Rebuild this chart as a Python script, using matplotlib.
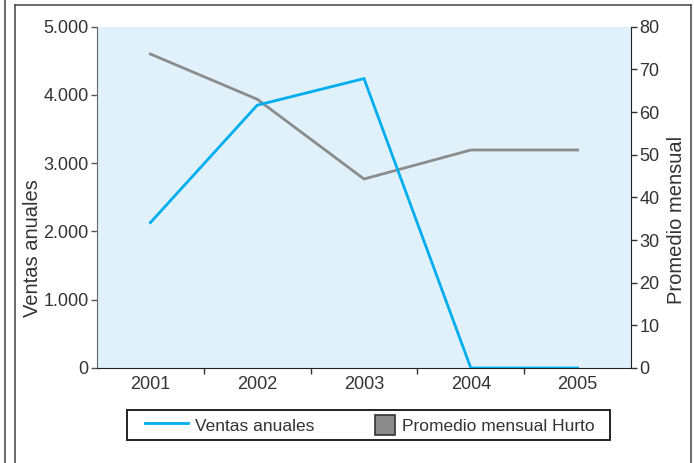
import matplotlib
matplotlib.use("Agg")
import matplotlib.pyplot as plt
from matplotlib.lines import Line2D
from matplotlib.patches import Patch, Rectangle
from matplotlib.legend_handler import HandlerPatch
from matplotlib.ticker import FuncFormatter, MultipleLocator, FixedLocator

plt.rcParams["font.family"] = ["Liberation Sans", "DejaVu Sans"]

# Datos
anios = ["2001", "2002", "2003", "2004", "2005"]
ventas_anuales = [2130, 3850, 4240, 0, 0]
promedio_hurto = [73.6, 63.0, 44.3, 51.1, 51.1]

AZUL = "#00AEEF"
GRIS = "#8C8C8C"
FONDO = "#E0F1FB"
TEXTO = "#333333"

W, H = 694, 463
fig = plt.figure(figsize=(W / 100, H / 100), dpi=100, facecolor="white")

ax = fig.add_axes([97 / W, (H - 368) / H, 534 / W, 341.3 / H])
x = list(range(len(anios)))
ax.plot(x, ventas_anuales, color=AZUL, lw=2.0, solid_joinstyle="miter", zorder=3)
ax.set_xlim(-0.5, len(anios) - 0.5)
ax.set_ylim(0, 5000)
ax.yaxis.set_major_locator(MultipleLocator(1000))
ax.yaxis.set_major_formatter(
    FuncFormatter(lambda v, _: f"{int(v):,}".replace(",", ".")))
ax.set_xticks(x)
ax.set_xticklabels(anios)
ax.xaxis.set_minor_locator(FixedLocator([i + 0.5 for i in x[:-1]]))
ax.tick_params(axis="x", which="major", length=0, pad=6,
               labelsize=13, labelcolor=TEXTO)
ax.tick_params(axis="x", which="minor", length=4, width=1, color="#333333")
ax.tick_params(axis="y", length=4, width=1, color="#555555",
               labelsize=13, labelcolor=TEXTO, pad=2)
ax.set_ylabel("Ventas anuales", fontsize=14.5, color=TEXTO)
ax.yaxis.set_label_coords(-0.103, 0.35)
for s in ("top", "right"):
    ax.spines[s].set_visible(False)
ax.spines["left"].set_color("#666666")
ax.spines["bottom"].set_color("#222222")

ax2 = ax.twinx()
ax2.plot(x, promedio_hurto, color=GRIS, lw=2.0, zorder=2)
ax2.set_ylim(0, 80)
ax2.yaxis.set_major_locator(MultipleLocator(10))
ax2.tick_params(axis="y", length=4, width=1, color="#333333",
                labelsize=13, labelcolor=TEXTO, pad=2)
ax2.set_ylabel("Promedio mensual", fontsize=14.5, color=TEXTO)
ax2.yaxis.set_label_coords(1.067, 0.435)
for s in ("top", "left", "bottom"):
    ax2.spines[s].set_visible(False)
ax2.spines["right"].set_color("#222222")

# fondo en el eje gris, linea azul por encima
ax2.set_zorder(0)
ax.set_zorder(1)
ax.patch.set_visible(False)
ax2.patch.set_visible(True)
ax2.patch.set_facecolor(FONDO)


def cuadrado(legend, orig_handle, xdescent, ydescent, width, height, fontsize):
    lado = 15.0
    return Rectangle((-xdescent + width - lado, -ydescent + (height - lado) / 2),
                     lado, lado)


handles = [
    Line2D([], [], color=AZUL, lw=2),
    Patch(facecolor=GRIS, edgecolor="#333333", linewidth=1.2),
]
leg = fig.legend(handles, ["Ventas anuales", "Promedio mensual Hurto"],
                 loc="center left", ncol=2,
                 bbox_to_anchor=(145 / W, (H - 425) / H),
                 fontsize=12.5, frameon=False,
                 borderpad=0, borderaxespad=0,
                 handlelength=2.48, handleheight=1.3, handletextpad=0.4,
                 columnspacing=2.19,
                 handler_map={Patch: HandlerPatch(patch_func=cuadrado)})
for t in leg.get_texts():
    t.set_color(TEXTO)

# recuadro de la leyenda
fig.add_artist(Rectangle((127 / W, (H - 440) / H), 483 / W, 30 / H,
                         transform=fig.transFigure, fill=False,
                         edgecolor="#222222", lw=1.4))

# marco de la pagina
marco = dict(color="#444444", lw=1.1, transform=fig.transFigure)
fig.add_artist(Line2D([4.5 / W, 4.5 / W], [0, 1], **marco))
fig.add_artist(Line2D([14.5 / W, 14.5 / W], [0, (H - 4.5) / H], **marco))
fig.add_artist(Line2D([14.5 / W, 690.5 / W], [(H - 4.5) / H, (H - 4.5) / H], **marco))
fig.add_artist(Line2D([690.5 / W, 690.5 / W], [0, (H - 4.5) / H], **marco))

fig.savefig("out.png", dpi=100, facecolor="white")
